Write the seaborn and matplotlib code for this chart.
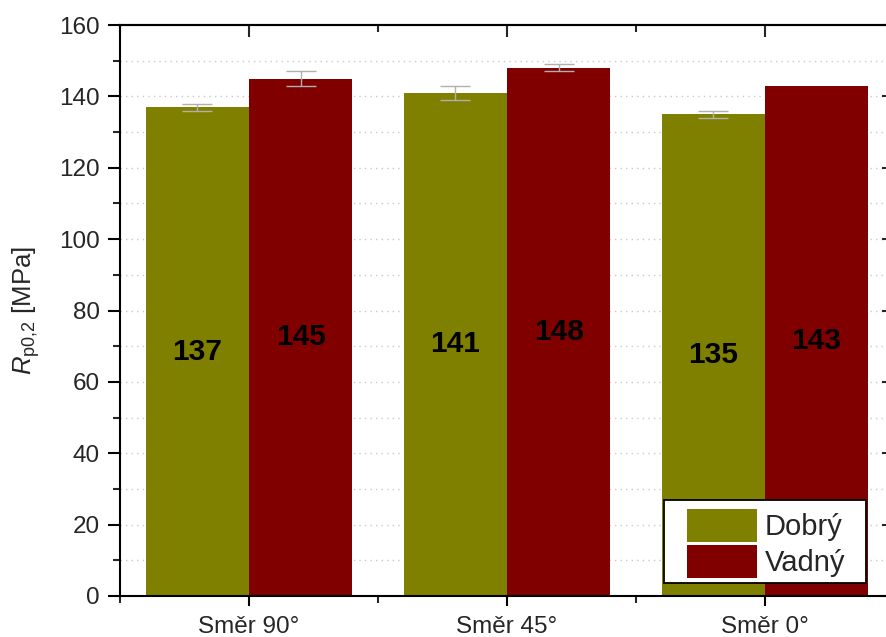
import numpy as np
import pandas as pd
import matplotlib
matplotlib.use("Agg")
import matplotlib.pyplot as plt
from matplotlib.patches import Rectangle
from matplotlib.ticker import MultipleLocator, FixedLocator
import seaborn as sns

# Yield strength Rp0.2 by sampling direction and sample quality
directions = ["Směr 90°", "Směr 45°", "Směr 0°"]
groups = ["Dobrý", "Vadný"]
dobry_vals = [137, 141, 135]
vadny_vals = [145, 148, 143]
dobry_err = [1, 2, 1]
vadny_err = [2, 1, 0]
palette = {"Dobrý": "#808000", "Vadný": "#800000"}

df = pd.DataFrame({
    "Směr": directions * 2,
    "Stav": [groups[0]] * 3 + [groups[1]] * 3,
    "Rp": dobry_vals + vadny_vals,
})
errs = {"Dobrý": dobry_err, "Vadný": vadny_err}

sns.set_style("white")
plt.rcParams["font.family"] = ["Liberation Sans", "DejaVu Sans"]
plt.rcParams["mathtext.fontset"] = "custom"
plt.rcParams["mathtext.rm"] = "Liberation Sans"
plt.rcParams["mathtext.it"] = "Liberation Sans:italic"

W, H = 886, 637
fig = plt.figure(figsize=(W / 100, H / 100), dpi=100)
ax = fig.add_axes([120 / W, 41 / H, (894 - 120) / W, (596 - 25) / H])

# dotted grid behind the bars
for yv in np.arange(10, 160, 10):
    ax.axhline(yv, color="#c8c8c8", linestyle=(0, (1, 3)), linewidth=1.0, zorder=0)

sns.barplot(data=df, x="Směr", y="Rp", hue="Stav", hue_order=groups,
            order=directions, palette=palette, errorbar=None, width=0.8,
            saturation=1, linewidth=0, ax=ax, zorder=2)

for cont, g in zip(ax.containers, groups):
    for bar, e in zip(cont, errs[g]):
        xc = bar.get_x() + bar.get_width() / 2
        h = bar.get_height()
        if e > 0:
            ax.errorbar(xc, h, yerr=e, fmt="none", ecolor="#b0b0b0",
                        elinewidth=1.0, capsize=11, capthick=1.0, zorder=3)
        ax.text(xc, h / 2, f"{h:.0f}", ha="center", va="center",
                fontsize=21.5, fontweight="bold", color="black", zorder=4)

ax.set_xlim(-0.5, 2.5)
ax.set_ylim(0, 160)
ax.yaxis.set_major_locator(MultipleLocator(20))
ax.yaxis.set_minor_locator(MultipleLocator(10))
ax.xaxis.set_minor_locator(FixedLocator([-0.5, 0.5, 1.5, 2.5]))

for s in ax.spines.values():
    s.set_visible(True)
    s.set_linewidth(1.5)
    s.set_color("black")

ax.tick_params(axis="both", which="major", labelsize=17.5, width=1.5,
               color="black", direction="out", left=True, bottom=True)
ax.tick_params(axis="y", which="major", length=8.5, pad=6)
ax.tick_params(axis="x", which="major", length=7.5, pad=7)
ax.tick_params(axis="both", which="minor", width=1.5, length=5, direction="out",
               left=True, bottom=True)

# mirrored top and right axes with inward ticks
top = ax.secondary_xaxis("top")
top.set_xticks([0, 1, 2])
top.xaxis.set_minor_locator(FixedLocator([-0.5, 0.5, 1.5, 2.5]))
top.tick_params(which="major", direction="in", length=8.5, width=1.5, labeltop=False)
top.tick_params(which="minor", direction="in", length=5, width=1.5)
top.spines["top"].set_linewidth(1.5)
right = ax.secondary_yaxis("right")
right.yaxis.set_major_locator(MultipleLocator(20))
right.yaxis.set_minor_locator(MultipleLocator(10))
right.tick_params(which="major", direction="in", length=8.5, width=1.5, labelright=False)
right.tick_params(which="minor", direction="in", length=5, width=1.5)
right.spines["right"].set_linewidth(1.5)

ax.set_xlabel("")
ax.set_ylabel(r"$R_{\mathrm{p0{,}2}}$ [MPa]", fontsize=18.5, labelpad=12)

# legend box with generous side padding
ax.add_patch(Rectangle((0.703, 0.0228), 0.261, 0.145, transform=ax.transAxes,
                       facecolor="white", edgecolor="black", linewidth=1.3,
                       zorder=4.5, clip_on=False))
leg = ax.legend(loc="lower right", bbox_to_anchor=(0.937, 0.0315),
                borderaxespad=0, borderpad=0, fontsize=21, frameon=False,
                handlelength=2.38, handleheight=1.37, handletextpad=0.28,
                labelspacing=0.1)
leg.set_zorder(5)

fig.savefig("out.png", dpi=100)
